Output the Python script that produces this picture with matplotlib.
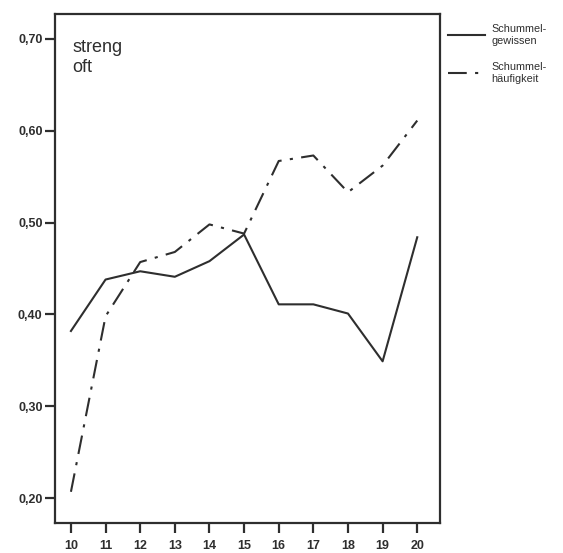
import matplotlib
matplotlib.use("Agg")
import matplotlib.pyplot as plt
from matplotlib.ticker import FuncFormatter

plt.rcParams['font.family'] = ['Liberation Sans', 'DejaVu Sans']

# Alter
jahre = [10, 11, 12, 13, 14, 15, 16, 17, 18, 19, 20]
# Schummelgewissen (durchgezogen)
gewissen = [0.382, 0.438, 0.447, 0.441, 0.458, 0.487, 0.411, 0.411, 0.401, 0.349, 0.484]
# Schummelhaeufigkeit (strich-punkt)
haeufigkeit = [0.207, 0.398, 0.457, 0.468, 0.498, 0.488, 0.567, 0.573, 0.533, 0.562, 0.611]

y_ticks = [0.20, 0.30, 0.40, 0.50, 0.60, 0.70]

ink = '#2e2e2e'

fig = plt.figure(figsize=(5.63, 5.53), dpi=100)
ax = fig.add_axes([0.0977, 0.0542, 0.684, 0.9205])

ax.plot(jahre, gewissen, color=ink, lw=1.5, label='Schummel-\ngewissen')
ax.plot(jahre, haeufigkeit, color=ink, lw=1.5, dashes=(9, 4, 1.5, 4),
        label='Schummel-\nhäufigkeit')

ax.set_xlim(9.54, 20.66)
ax.set_ylim(0.173, 0.727)
ax.set_xticks(jahre)
ax.set_yticks(y_ticks)
ax.yaxis.set_major_formatter(FuncFormatter(lambda v, p: f"{v:.2f}".replace('.', ',')))

for s in ax.spines.values():
    s.set_color(ink)
    s.set_linewidth(1.6)
ax.tick_params(direction='out', length=7, width=1.6, color=ink,
               labelsize=9, labelcolor=ink, pad=2)
ax.tick_params(axis='x', pad=5)
for lab in ax.get_yticklabels() + ax.get_xticklabels():
    lab.set_fontweight('bold')

ax.text(0.045, 0.95, 'streng\noft', transform=ax.transAxes, fontsize=13,
        color=ink, va='top', ha='left', linespacing=1.2)

leg = ax.legend(loc='upper left', bbox_to_anchor=(1.0, 0.995), frameon=False,
                fontsize=7.8, handlelength=3.4, handletextpad=0.6,
                labelspacing=1.5, borderaxespad=0.3)
for t in leg.get_texts():
    t.set_color(ink)

fig.savefig('out.png', dpi=100, facecolor='white')
